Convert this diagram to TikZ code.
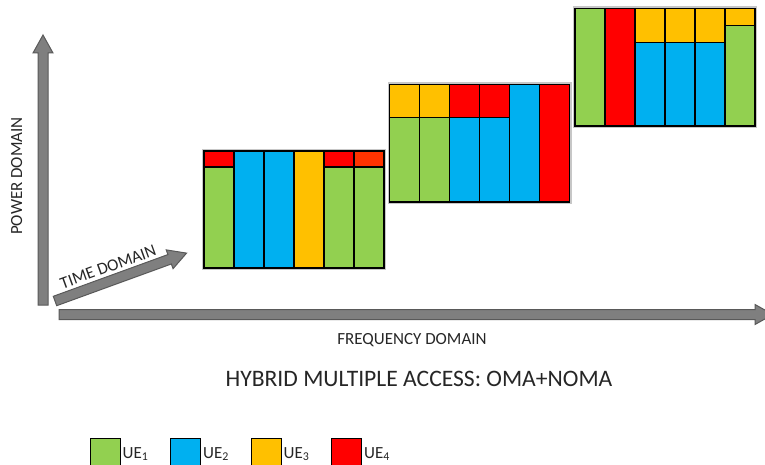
\documentclass[tikz,border=0pt]{standalone}
\usepackage{fontspec}
\setmainfont{Carlito}
\usetikzlibrary{positioning}

\definecolor{uegreen}{HTML}{92D050}
\definecolor{ueblue}{HTML}{00B0F0}
\definecolor{ueyellow}{HTML}{FFC000}
\definecolor{uered}{HTML}{FF0000}
\definecolor{ueorange}{HTML}{FF3300}
\definecolor{axisgray}{HTML}{7F7F7F}
\definecolor{axisedge}{HTML}{595959}

\tikzset{
  cell/.style={draw=black, line width=1.4pt},
  glow/.style={draw=black!22, line width=4pt},
  axisarrow/.style={fill=axisgray, draw=axisedge, line width=1pt, line join=miter},
  axislabel/.style={font=\fontsize{17}{20}\selectfont, text=black!85, inner sep=0pt},
  legbox/.style={draw=black, line width=1pt, minimum width=30pt, minimum height=32pt, inner sep=0pt},
  legtext/.style={font=\fontsize{17}{20}\selectfont, text=black!85, inner sep=1pt}
}

% x, y, angle, length
\newcommand{\fatarrow}[4]{%
  \draw[axisarrow, shift={(#1,#2)}, rotate=#3]
    (0,-5) -- ({#4-18},-5) -- ({#4-18},-10) -- (#4,0) -- ({#4-18},10) -- ({#4-18},5) -- (0,5) -- cycle;}

\begin{document}
\begin{tikzpicture}[x=1pt, y=-1pt]
  \useasboundingbox (0,0) rectangle (765,465);

  % axes
  \fatarrow{43}{305}{90}{270}
  \fatarrow{59}{314.5}{0}{714}
  \fatarrow{55}{301}{20}{140}

  \node[axislabel, rotate=90, anchor=base] (power) at (22,176) {POWER DOMAIN};
  \node[axislabel, rotate=20, anchor=base] (time) at (110,272) {TIME DOMAIN};
  \node[axislabel, anchor=base] (freq) at (412,344.5) {FREQUENCY DOMAIN};
  \node[font=\fontsize{23.6}{26}\selectfont, text=black!85, anchor=base, inner sep=0pt] (title) at (419,386) {HYBRID MULTIPLE ACCESS: OMA+NOMA};

  % block 1
  \draw[glow] (204,151) rectangle (384,268);
  \foreach \i/\up/\cut/\low in {0/uered/16/uegreen, 1/ueblue/0/ueblue, 2/ueblue/0/ueblue,
                                3/ueyellow/0/ueyellow, 4/uered/16/uegreen, 5/ueorange/16/uegreen}
  {
    \draw[cell, fill=\low] ({204+30*\i},151) rectangle ++(30,117);
    \ifnum\cut>0 \draw[cell, fill=\up] ({204+30*\i},151) rectangle ++(30,\cut); \fi
  }

  % block 2
  \draw[glow] (389.5,84.5) rectangle (569.5,202);
  \foreach \i/\up/\cut/\low in {0/ueyellow/33/uegreen, 1/ueyellow/33/uegreen, 2/uered/33/ueblue,
                                3/uered/33/ueblue, 4/ueblue/0/ueblue, 5/uered/0/uered}
  {
    \draw[cell, fill=\low] ({389.5+30*\i},84.5) rectangle ++(30,117.5);
    \ifnum\cut>0 \draw[cell, fill=\up] ({389.5+30*\i},84.5) rectangle ++(30,\cut); \fi
  }

  % block 3
  \draw[glow] (575,8.5) rectangle (755,126);
  \foreach \i/\up/\cut/\low in {0/uegreen/0/uegreen, 1/uered/0/uered, 2/ueyellow/34/ueblue,
                                3/ueyellow/34/ueblue, 4/ueyellow/34/ueblue, 5/ueyellow/17/uegreen}
  {
    \draw[cell, fill=\low] ({575+30*\i},8.5) rectangle ++(30,117.5);
    \ifnum\cut>0 \draw[cell, fill=\up] ({575+30*\i},8.5) rectangle ++(30,\cut); \fi
  }

  % legend
  \node[legbox, fill=uegreen] (k1) at (105,454) {};
  \node[legbox, fill=ueblue] (k2) at (185.5,454) {};
  \node[legbox, fill=ueyellow] (k3) at (266,454) {};
  \node[legbox, fill=uered] (k4) at (346.5,454) {};
  \node[legtext, right=1pt of k1] (l1) {UE\textsubscript{1}};
  \node[legtext, right=1pt of k2] (l2) {UE\textsubscript{2}};
  \node[legtext, right=1pt of k3] (l3) {UE\textsubscript{3}};
  \node[legtext, right=1pt of k4] (l4) {UE\textsubscript{4}};
\end{tikzpicture}
\end{document}
